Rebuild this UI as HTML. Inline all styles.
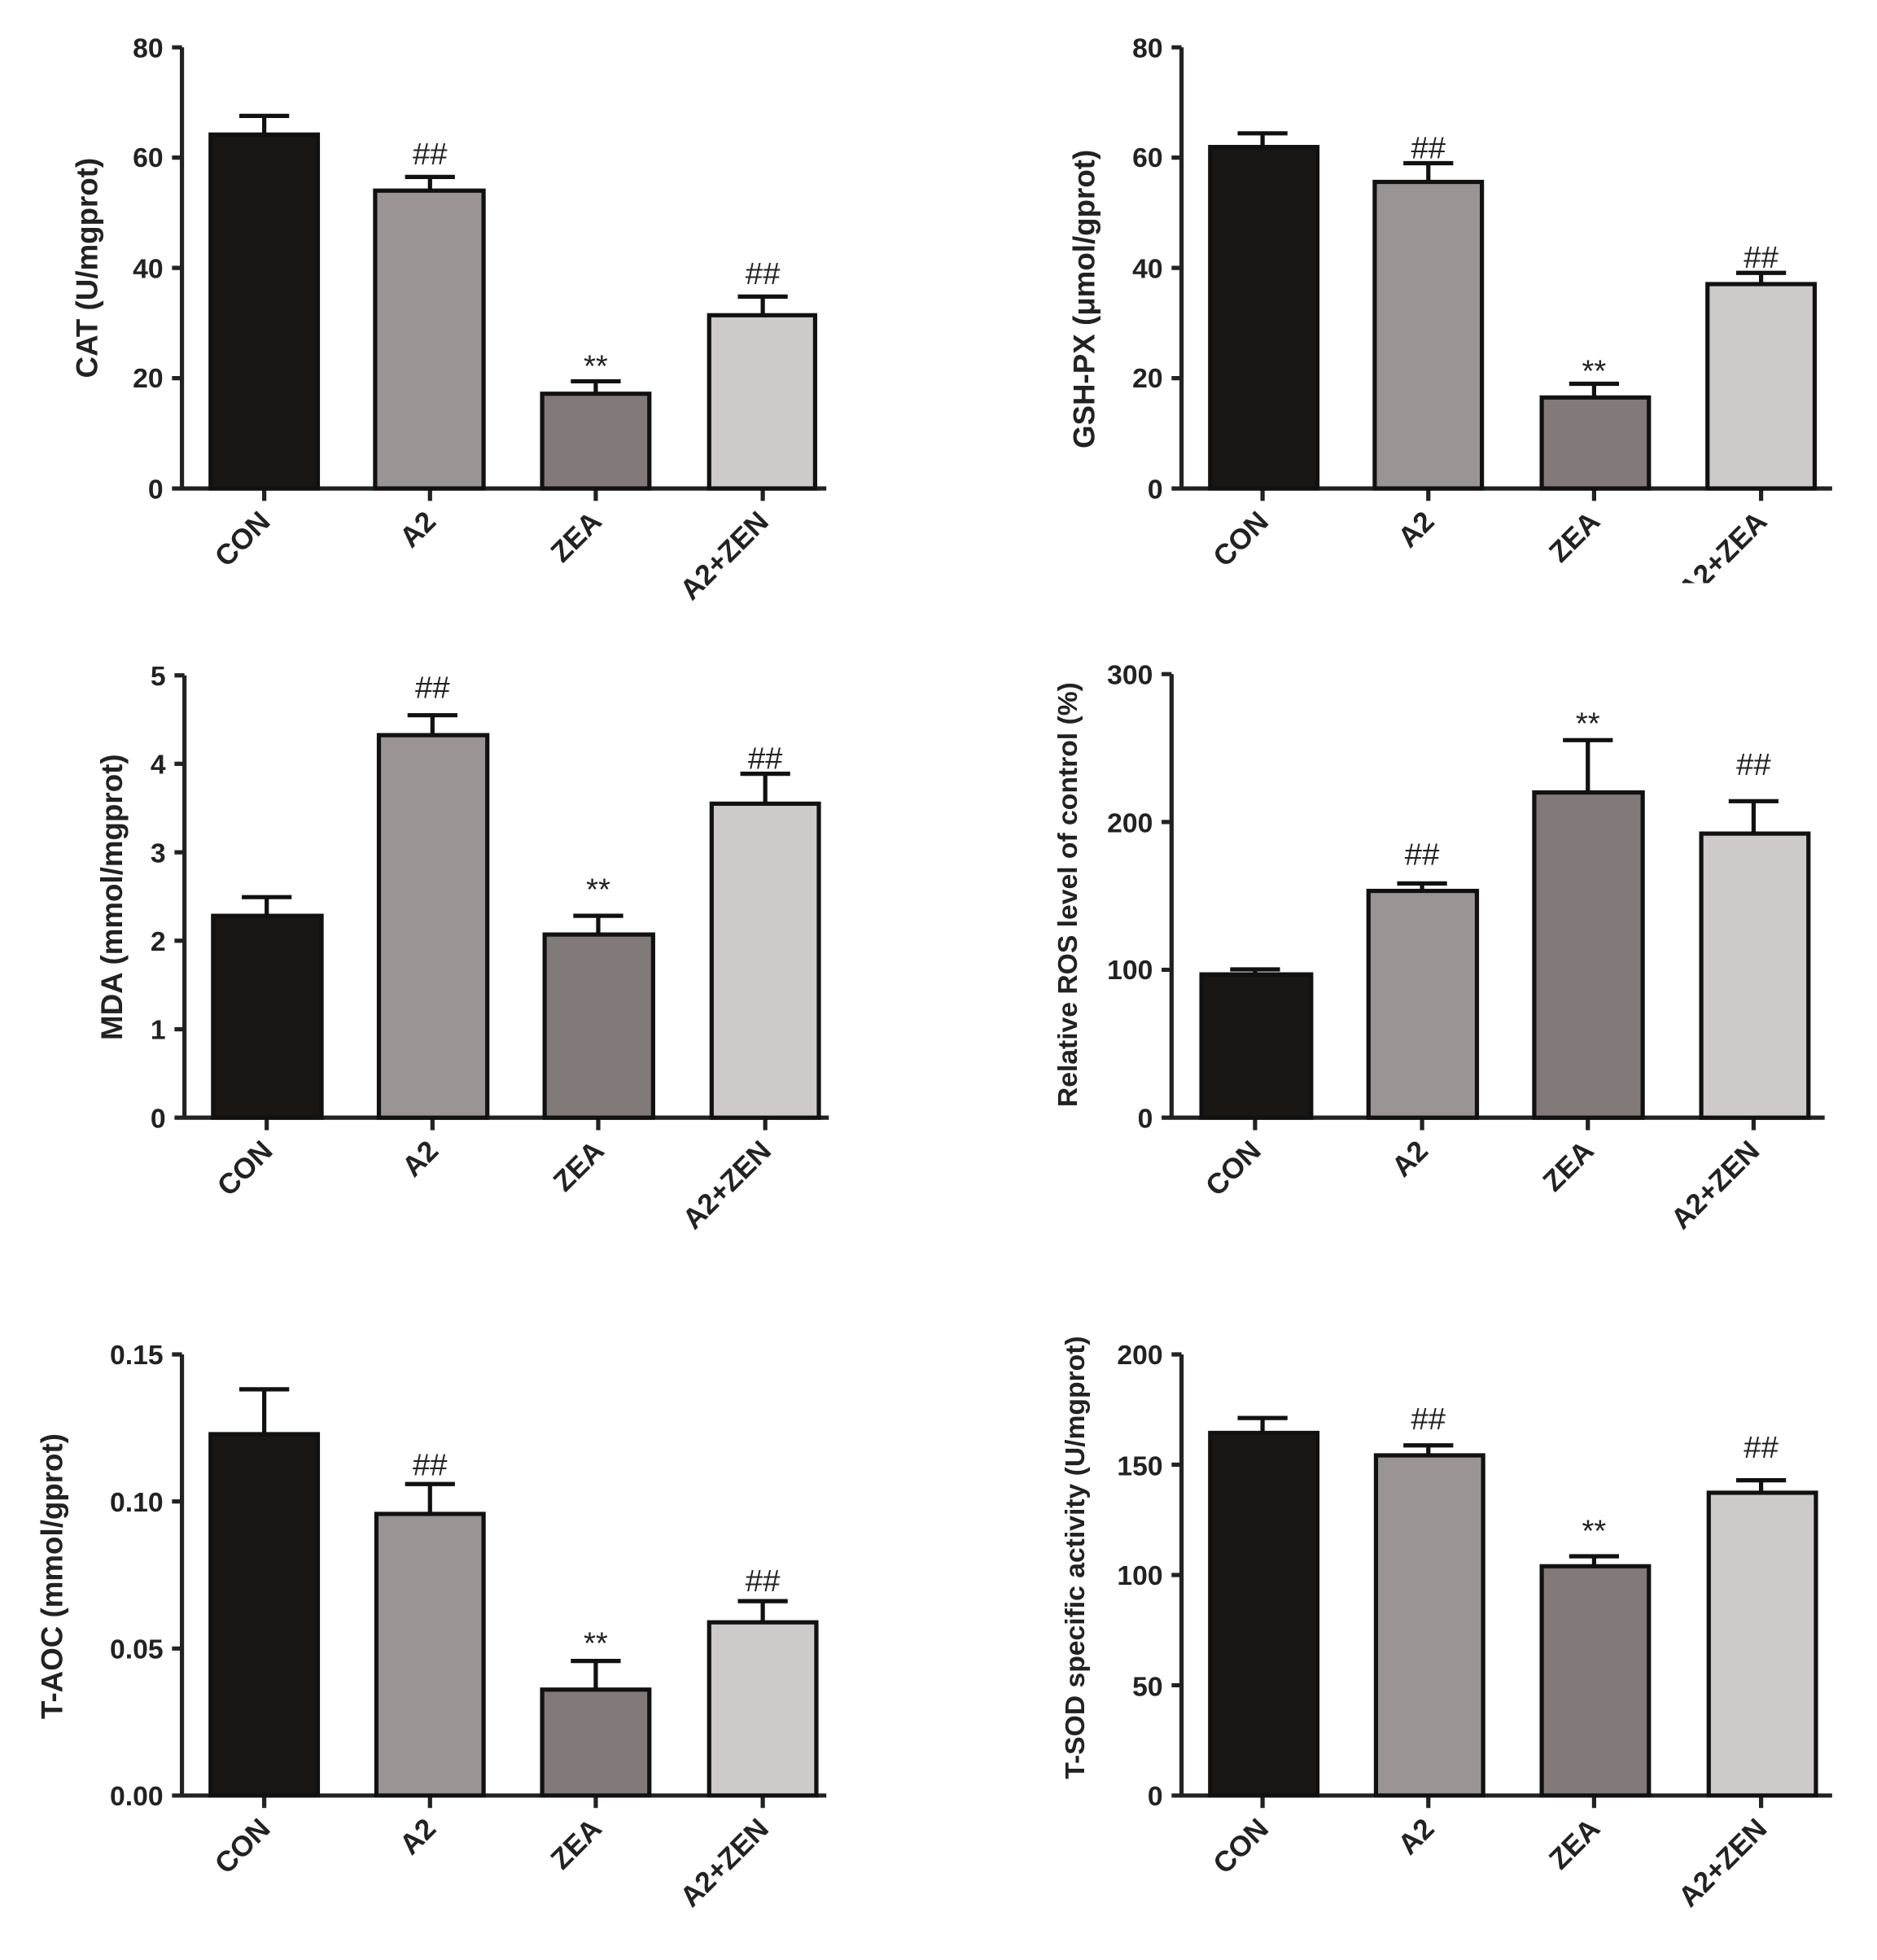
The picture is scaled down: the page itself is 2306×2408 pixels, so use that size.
<!DOCTYPE html>
<html><head><meta charset="utf-8"><style>
html,body{margin:0;padding:0;background:#fff;}
svg{display:block;}
text{font-family:"Liberation Sans",Arial,sans-serif;font-weight:bold;fill:#222;}
.t{font-size:22px;text-anchor:end;}
.x{font-size:23px;text-anchor:end;}
.y{font-size:24px;text-anchor:middle;}
.a{font-size:25px;text-anchor:middle;font-weight:normal;}
.ax{stroke:#222;stroke-width:3.4;fill:none;}
.b{stroke:#111;stroke-width:3.4;}
.e{stroke:#111;stroke-width:3.4;fill:none;}
</style></head><body>
<svg width="2306" height="2408" viewBox="0 0 1506 1573" preserveAspectRatio="none" xmlns="http://www.w3.org/2000/svg">
<rect width="1506" height="1573" fill="#fff"/>

<!-- Panel 1 CAT -->
<g>
<path class="ax" d="M146 38V392H663M138 38H146M138 303.5H146M138 215H146M138 126.5H146M138 392H146M212 392V402M345 392V402M478 392V402M612 392V402"/>
<text class="t" x="131" y="46">80</text><text class="t" x="131" y="311">20</text><text class="t" x="131" y="223">40</text><text class="t" x="131" y="134">60</text><text class="t" x="131" y="400">0</text>
<path class="e" d="M212 108V93M192 93H232M345 153V142M325 142H365M478 316V306M458 306H498M612 253V238M592 238H632"/>
<rect class="b" x="169" y="108" width="86" height="284" fill="#1a1614"/>
<rect class="b" x="301" y="153" width="87" height="239" fill="#9a9494"/>
<rect class="b" x="435" y="316" width="86" height="76" fill="#817a79"/>
<rect class="b" x="569" y="253" width="85" height="139" fill="#cfcaca"/>
<text class="a" x="345" y="132">##</text><text class="a" x="478" y="302">**</text><text class="a" x="612" y="228">##</text>
<text class="y" transform="translate(78,215) rotate(-90)">CAT (U/mgprot)</text>
<text class="x" transform="translate(218,420) rotate(-45)">CON</text>
<text class="x" transform="translate(351,420) rotate(-45)">A2</text>
<text class="x" transform="translate(484,420) rotate(-45)">ZEA</text>
<text class="x" transform="translate(618,420) rotate(-45)">A2+ZEN</text>
</g>

<!-- Panel 2 GSH-PX -->
<g>
<path class="ax" d="M948 38V392H1470M940 38H948M940 303.5H948M940 215H948M940 126.5H948M940 392H948M1013 392V402M1146 392V402M1279 392V402M1413 392V402"/>
<text class="t" x="933" y="46">80</text><text class="t" x="933" y="311">20</text><text class="t" x="933" y="223">40</text><text class="t" x="933" y="134">60</text><text class="t" x="933" y="400">0</text>
<path class="e" d="M1013 118V107M993 107H1033M1146 146V131M1126 131H1166M1279 319V308M1259 308H1299M1413 228V219M1393 219H1433"/>
<rect class="b" x="971" y="118" width="86" height="274" fill="#1a1614"/>
<rect class="b" x="1103" y="146" width="86" height="246" fill="#9a9494"/>
<rect class="b" x="1237" y="319" width="86" height="73" fill="#817a79"/>
<rect class="b" x="1370" y="228" width="86" height="164" fill="#cfcaca"/>
<text class="a" x="1146" y="127">##</text><text class="a" x="1279" y="306">**</text><text class="a" x="1413" y="215">##</text>
<text class="y" transform="translate(878,240) rotate(-90)">GSH-PX (μmol/gprot)</text>
<text class="x" transform="translate(1019,420) rotate(-45)">CON</text>
<text class="x" transform="translate(1152,420) rotate(-45)">A2</text>
<text class="x" transform="translate(1285,420) rotate(-45)">ZEA</text>
<text class="x" transform="translate(1419,420) rotate(-45)">A2+ZEA</text>
<rect x="1300" y="468" width="206" height="40" fill="#fff"/>
</g>

<!-- Panel 3 MDA -->
<g>
<path class="ax" d="M148 542V897H665M140 542H148M140 613H148M140 684H148M140 755H148M140 826H148M140 897H148M214 897V907M347 897V907M480 897V907M614 897V907"/>
<text class="t" x="133" y="550">5</text><text class="t" x="133" y="621">4</text><text class="t" x="133" y="692">3</text><text class="t" x="133" y="763">2</text><text class="t" x="133" y="834">1</text><text class="t" x="133" y="905">0</text>
<path class="e" d="M214 735V720M194 720H234M347 590V574M327 574H367M480 750V735M460 735H500M614 645V621M594 621H634"/>
<rect class="b" x="171" y="735" width="87" height="162" fill="#1a1614"/>
<rect class="b" x="304" y="590" width="87" height="307" fill="#9a9494"/>
<rect class="b" x="437" y="750" width="87" height="147" fill="#817a79"/>
<rect class="b" x="571" y="645" width="86" height="252" fill="#cfcaca"/>
<text class="a" x="347" y="560">##</text><text class="a" x="480" y="722">**</text><text class="a" x="614" y="617">##</text>
<text class="y" transform="translate(98,720) rotate(-90)">MDA (mmol/mgprot)</text>
<text class="x" transform="translate(220,925) rotate(-45)">CON</text>
<text class="x" transform="translate(353,925) rotate(-45)">A2</text>
<text class="x" transform="translate(486,925) rotate(-45)">ZEA</text>
<text class="x" transform="translate(620,925) rotate(-45)">A2+ZEN</text>
</g>

<!-- Panel 4 ROS -->
<g>
<path class="ax" d="M940 541V897H1464M932 541H940M932 659.7H940M932 778.3H940M932 897H940M1007 897V907M1141 897V907M1274 897V907M1407 897V907"/>
<text class="t" x="925" y="549">300</text><text class="t" x="925" y="668">200</text><text class="t" x="925" y="786">100</text><text class="t" x="925" y="905">0</text>
<path class="e" d="M1007 782V778M987 778H1027M1141 715V709M1121 709H1161M1274 636V594M1254 594H1294M1407 669V643M1387 643H1427"/>
<rect class="b" x="964" y="782" width="88" height="115" fill="#1a1614"/>
<rect class="b" x="1098" y="715" width="87" height="182" fill="#9a9494"/>
<rect class="b" x="1231" y="636" width="87" height="261" fill="#817a79"/>
<rect class="b" x="1365" y="669" width="86" height="228" fill="#cfcaca"/>
<text class="a" x="1141" y="694">##</text><text class="a" x="1274" y="589">**</text><text class="a" x="1407" y="622">##</text>
<text class="y" style="font-size:22px" transform="translate(864,718) rotate(-90)">Relative ROS level of control (%)</text>
<text class="x" transform="translate(1013,925) rotate(-45)">CON</text>
<text class="x" transform="translate(1147,925) rotate(-45)">A2</text>
<text class="x" transform="translate(1280,925) rotate(-45)">ZEA</text>
<text class="x" transform="translate(1413,925) rotate(-45)">A2+ZEN</text>
</g>

<!-- Panel 5 T-AOC -->
<g>
<path class="ax" d="M146 1087V1441H663M138 1087H146M138 1205H146M138 1323H146M138 1441H146M212 1441V1451M345 1441V1451M478 1441V1451M612 1441V1451"/>
<text class="t" x="131" y="1095">0.15</text><text class="t" x="131" y="1213">0.10</text><text class="t" x="131" y="1331">0.05</text><text class="t" x="131" y="1449">0.00</text>
<path class="e" d="M212 1151V1115M192 1115H232M345 1215V1191M325 1191H365M478 1356V1333M458 1333H498M612 1302V1285M592 1285H632"/>
<rect class="b" x="169" y="1151" width="86" height="290" fill="#1a1614"/>
<rect class="b" x="302" y="1215" width="86" height="226" fill="#9a9494"/>
<rect class="b" x="435" y="1356" width="86" height="85" fill="#817a79"/>
<rect class="b" x="569" y="1302" width="86" height="139" fill="#cfcaca"/>
<text class="a" x="345" y="1184">##</text><text class="a" x="478" y="1327">**</text><text class="a" x="612" y="1277">##</text>
<text class="y" transform="translate(50,1265) rotate(-90)">T-AOC (mmol/gprot)</text>
<text class="x" transform="translate(218,1469) rotate(-45)">CON</text>
<text class="x" transform="translate(351,1469) rotate(-45)">A2</text>
<text class="x" transform="translate(484,1469) rotate(-45)">ZEA</text>
<text class="x" transform="translate(618,1469) rotate(-45)">A2+ZEN</text>
</g>

<!-- Panel 6 T-SOD -->
<g>
<path class="ax" d="M948 1087V1441H1470M940 1087H948M940 1175.5H948M940 1264H948M940 1352.5H948M940 1441H948M1013 1441V1451M1146 1441V1451M1279 1441V1451M1413 1441V1451"/>
<text class="t" x="933" y="1095">200</text><text class="t" x="933" y="1184">150</text><text class="t" x="933" y="1272">100</text><text class="t" x="933" y="1361">50</text><text class="t" x="933" y="1449">0</text>
<path class="e" d="M1013 1150V1138M993 1138H1033M1146 1168V1160M1126 1160H1166M1279 1257V1249M1259 1249H1299M1413 1198V1188M1393 1188H1433"/>
<rect class="b" x="971" y="1150" width="86" height="291" fill="#1a1614"/>
<rect class="b" x="1104" y="1168" width="86" height="273" fill="#9a9494"/>
<rect class="b" x="1237" y="1257" width="86" height="184" fill="#817a79"/>
<rect class="b" x="1371" y="1198" width="86" height="243" fill="#cfcaca"/>
<text class="a" x="1146" y="1147">##</text><text class="a" x="1279" y="1237">**</text><text class="a" x="1413" y="1170">##</text>
<text class="y" style="font-size:22px" transform="translate(870,1250) rotate(-90)">T-SOD specific activity (U/mgprot)</text>
<text class="x" transform="translate(1019,1469) rotate(-45)">CON</text>
<text class="x" transform="translate(1152,1469) rotate(-45)">A2</text>
<text class="x" transform="translate(1285,1469) rotate(-45)">ZEA</text>
<text class="x" transform="translate(1419,1469) rotate(-45)">A2+ZEN</text>
</g>
</svg>
</body></html>
